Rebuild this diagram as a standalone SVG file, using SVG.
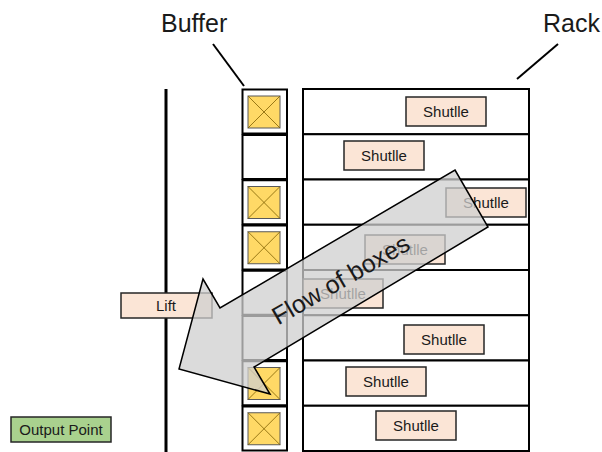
<svg xmlns="http://www.w3.org/2000/svg" width="602" height="452" viewBox="0 0 602 452">
<style>
.t{font-family:"Liberation Sans",Arial,sans-serif;fill:#1a1a1a}
.hdr{font-size:25px}
.lbl{font-size:15px;text-anchor:middle}
.cell{fill:#fff;stroke:#000;stroke-width:2}
.shut{fill:#FBE5D6;stroke:#262626;stroke-width:1.5}
.box{fill:#FFD966;stroke:#595959;stroke-width:1}
.x{stroke:#7F6000;stroke-width:0.8}
.lead{stroke:#000;stroke-width:2;fill:none}
</style>
<defs>
<g id="ybox">
<rect class="box" x="0" y="0" width="32" height="32"/>
<path class="x" d="M0,0L32,32M32,0L0,32"/>
</g>
</defs>
<rect width="602" height="452" fill="#fff"/>
<g id="headers">
<text class="t hdr" x="161" y="32">Buffer</text>
<text class="t hdr" x="600" y="32" text-anchor="end">Rack</text>
</g>
<g id="connectors">
<line class="lead" x1="213" y1="44" x2="244" y2="86"/>
<line class="lead" x1="558" y1="44" x2="517" y2="79"/>
</g>
<g id="lift-rail">
<line x1="166" y1="89" x2="166" y2="452" stroke="#000" stroke-width="3"/>
</g>
<g id="rack">
<rect class="cell" x="303" y="89" width="226" height="45.25"/>
<rect class="cell" x="303" y="134.25" width="226" height="45.25"/>
<rect class="cell" x="303" y="179.5" width="226" height="45.25"/>
<rect class="cell" x="303" y="224.75" width="226" height="45.25"/>
<rect class="cell" x="303" y="270" width="226" height="45.25"/>
<rect class="cell" x="303" y="315.25" width="226" height="45.25"/>
<rect class="cell" x="303" y="360.5" width="226" height="45.25"/>
<rect class="cell" x="303" y="405.75" width="226" height="45.25"/>
</g>
<g id="buffer">
<rect class="cell" x="242.5" y="89.5" width="44.5" height="44"/>
<rect class="cell" x="242.5" y="135" width="44.5" height="44"/>
<rect class="cell" x="242.5" y="180.25" width="44.5" height="44"/>
<rect class="cell" x="242.5" y="225.5" width="44.5" height="44"/>
<rect class="cell" x="242.5" y="270.75" width="44.5" height="44"/>
<rect class="cell" x="242.5" y="316" width="44.5" height="44"/>
<rect class="cell" x="242.5" y="361.25" width="44.5" height="44"/>
<rect class="cell" x="242.5" y="406.5" width="44.5" height="44"/>
<use href="#ybox" x="248" y="96"/>
<use href="#ybox" x="248" y="186.5"/>
<use href="#ybox" x="248" y="231.75"/>
<use href="#ybox" x="248" y="367.5"/>
<use href="#ybox" x="248" y="412.75"/>
</g>
<g id="shuttle1"><rect class="shut" x="406" y="97" width="80" height="29"/><text class="t lbl" x="446" y="117">Shutlle</text></g>
<g id="shuttle2"><rect class="shut" x="344" y="141" width="80" height="29"/><text class="t lbl" x="384" y="161">Shutlle</text></g>
<g id="shuttle3"><rect class="shut" x="446" y="188" width="80" height="29"/><text class="t lbl" x="486" y="208">Shutlle</text></g>
<g id="shuttle4"><rect class="shut" x="365" y="235" width="80" height="29"/><text class="t lbl" x="405" y="255">Shutlle</text></g>
<g id="shuttle5"><rect class="shut" x="303" y="279" width="80" height="29"/><text class="t lbl" x="343" y="299">Shutlle</text></g>
<g id="shuttle6"><rect class="shut" x="404" y="325" width="80" height="29"/><text class="t lbl" x="444" y="345">Shutlle</text></g>
<g id="shuttle7"><rect class="shut" x="346" y="367" width="80" height="29"/><text class="t lbl" x="386" y="387">Shutlle</text></g>
<g id="shuttle8"><rect class="shut" x="376" y="411" width="80" height="29"/><text class="t lbl" x="416" y="431">Shutlle</text></g>
<g id="lift"><rect class="shut" x="121" y="293" width="91" height="25"/><text class="t lbl" x="166" y="311">Lift</text></g>
<g id="output-point"><rect x="11" y="417" width="100" height="25" fill="#A9D18E" stroke="#262626" stroke-width="1.5"/><text class="t lbl" x="61" y="435">Output Point</text></g>
<g id="flow-arrow">
<polygon points="455,170 488,227 254,367 270,394 179,369 203,279 220,308" fill="#CFCFCF" fill-opacity="0.75" stroke="#000" stroke-width="1.5" stroke-linejoin="miter"/>
<text class="t" font-size="25" text-anchor="middle" transform="translate(345,287) rotate(-30)">Flow of boxes</text>
</g>
</svg>
